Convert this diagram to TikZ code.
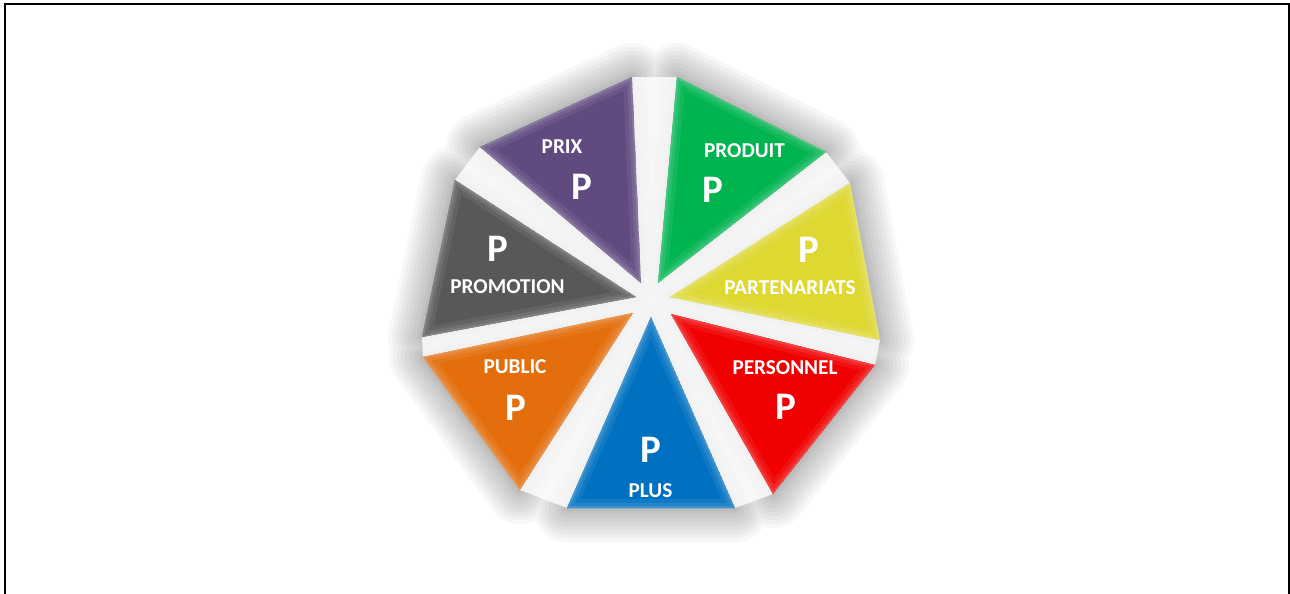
\documentclass[tikz,border=0pt]{standalone}
\usepackage{fontspec}
\setmainfont{Carlito}
\usetikzlibrary{calc}
\definecolor{cpurple}{RGB}{96,74,128}
\definecolor{cgreen}{RGB}{0,180,80}
\definecolor{cyellow}{RGB}{222,216,50}
\definecolor{cred}{RGB}{240,0,0}
\definecolor{cblue}{RGB}{0,112,192}
\definecolor{corange}{RGB}{228,110,12}
\definecolor{cgray}{RGB}{88,88,88}
\newcommand\tripath[3]{(#1) -- (#2) -- (#3) -- cycle}
\newcommand\allpaths{%
  \tripath{pu1}{pu2}{pu3} \tripath{gr1}{gr2}{gr3} \tripath{ye1}{ye2}{ye3}
  \tripath{re1}{re2}{re3} \tripath{bl1}{bl2}{bl3} \tripath{or1}{or2}{or3}
  \tripath{ga1}{ga2}{ga3}}
\newcommand\gappaths{%
  (pu2) -- (gr1) -- (gr3) -- (pu3) -- cycle
  (gr3) -- (gr2) -- (ye1) -- (ye3) -- cycle
  (ye3) -- (ye2) -- (re2) -- (re1) -- cycle
  (re1) -- (re3) -- (bl2) -- (bl1) -- cycle
  (bl1) -- (bl3) -- (or3) -- (or2) -- cycle
  (or2) -- (or1) -- (ga3) -- (ga2) -- cycle
  (ga2) -- (ga1) -- (pu1) -- (pu3) -- cycle
  (pu3) -- (gr3) -- (ye3) -- (re1) -- (bl1) -- (or2) -- (ga2) -- cycle}
\newcommand\trifill[4]{%
  \begin{scope}
    \clip \tripath{#1}{#2}{#3};
    \fill[#4] \tripath{#1}{#2}{#3};
    \draw[line width=9pt, #4!80!white, opacity=0.35, line join=round] \tripath{#1}{#2}{#3};
    \draw[line width=5pt, #4!70!white, opacity=0.35, line join=round] \tripath{#1}{#2}{#3};
    \draw[line width=2pt, #4!60!white, opacity=0.4, line join=round] \tripath{#1}{#2}{#3};
  \end{scope}%
}
\tikzset{
  glow/.style={draw=black, fill=black, line join=round},
  lab/.style={text=white, inner sep=0pt, font=\bfseries\fontsize{10.6}{12}\selectfont},
  bigp/.style={text=white, inner sep=0pt, font=\bfseries\fontsize{19.5}{22}\selectfont},
}
\begin{document}
\begin{tikzpicture}[x=0.5pt,y=-0.5pt]
\useasboundingbox (0,0) rectangle (1290,594);
\fill[white] (0,0) rectangle (1290,594);
\draw[line width=1pt] (5,600) -- (5,4) -- (1288.5,4) -- (1288.5,600);

% vertices
\coordinate (pu1) at (480,147); \coordinate (pu2) at (632,77);  \coordinate (pu3) at (641,283);
\coordinate (gr1) at (677,77);  \coordinate (gr2) at (826,152); \coordinate (gr3) at (658,283);
\coordinate (ye1) at (850,183); \coordinate (ye2) at (880,340); \coordinate (ye3) at (670,297);
\coordinate (re1) at (671,314); \coordinate (re2) at (875,365); \coordinate (re3) at (773,494);
\coordinate (bl1) at (651,317); \coordinate (bl2) at (735,508); \coordinate (bl3) at (567,508);
\coordinate (or1) at (423,357); \coordinate (or2) at (633,313); \coordinate (or3) at (520,490);
\coordinate (ga1) at (455,180); \coordinate (ga2) at (636,297); \coordinate (ga3) at (422,337);

% soft shadow around the triangles
\foreach \w in {34,30,26,22,18,14,10,6,3}{%
  \begin{scope}[transparency group, opacity=0.03]
    \draw[glow, line width=\w pt] [shift={(-3,8)}] \allpaths;
  \end{scope}}
% light gaps between the triangles
\fill[white, opacity=0.8] \gappaths;

% triangles
\trifill{pu1}{pu2}{pu3}{cpurple}
\trifill{gr1}{gr2}{gr3}{cgreen}
\trifill{ye1}{ye2}{ye3}{cyellow}
\trifill{re1}{re2}{re3}{cred}
\trifill{bl1}{bl2}{bl3}{cblue}
\trifill{or1}{or2}{or3}{corange}
\trifill{ga1}{ga2}{ga3}{cgray}

% labels
\node[lab]  (t-prix) at (562,147) {PRIX};
\node[bigp] (p-prix) at (582,187) {P};
\node[lab]  (t-prod) at (744.5,151) {PRODUIT};
\node[bigp] (p-prod) at (713,190) {P};
\node[bigp] (p-part) at (809,250) {P};
\node[lab]  (t-part) at (790,288) {PARTENARIATS};
\node[lab]  (t-pers) at (785,368) {PERSONNEL};
\node[bigp] (p-pers) at (786,407) {P};
\node[bigp] (p-plus) at (651,450) {P};
\node[lab]  (t-plus) at (650.5,491) {PLUS};
\node[lab]  (t-publ) at (515,367) {PUBLIC};
\node[bigp] (p-publ) at (516,408) {P};
\node[bigp] (p-prom) at (498,249) {P};
\node[lab]  (t-prom) at (507.5,287) {PROMOTION};
\end{tikzpicture}
\end{document}
